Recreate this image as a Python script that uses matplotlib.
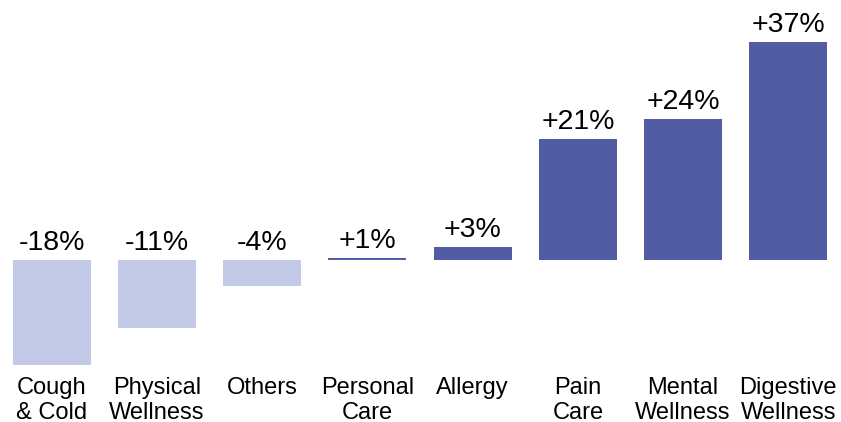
import matplotlib.pyplot as plt

plt.rcParams['font.family'] = ['Liberation Sans', 'DejaVu Sans']

categories = ['Cough\n& Cold', 'Physical\nWellness', 'Others', 'Personal\nCare', 'Allergy',
              'Pain\nCare', 'Mental\nWellness', 'Digestive\nWellness']
growth = [-17.9, -11.5, -4.4, 0.3, 2.2, 20.6, 24.0, 37.0]
growth_labels = ['-18%', '-11%', '-4%', '+1%', '+3%', '+21%', '+24%', '+37%']

dark = '#525ca3'
light = '#c2cae8'

fig = plt.figure(figsize=(8.41, 4.22), dpi=100)
ax = fig.add_axes([0, 0.123, 1, 0.877])

x = list(range(len(categories)))
colors = [light if v < 0 else dark for v in growth]
ax.bar(x, growth, width=0.74, color=colors)

for i, v in enumerate(growth):
    top = max(v, 0)
    ax.annotate(growth_labels[i], (i, top), xytext=(0, 3), textcoords='offset points',
                ha='center', va='bottom', fontsize=20.5)

ax.set_xticks(x)
ax.set_xticklabels(categories, fontsize=17, linespacing=1.15)
ax.tick_params(axis='x', length=0, pad=5)
ax.set_yticks([])
ax.set_xlim(-0.49, 7.5)
ax.set_ylim(-18.7, 44.2)
for s in ax.spines.values():
    s.set_visible(False)

fig.savefig('out.png', dpi=100)
